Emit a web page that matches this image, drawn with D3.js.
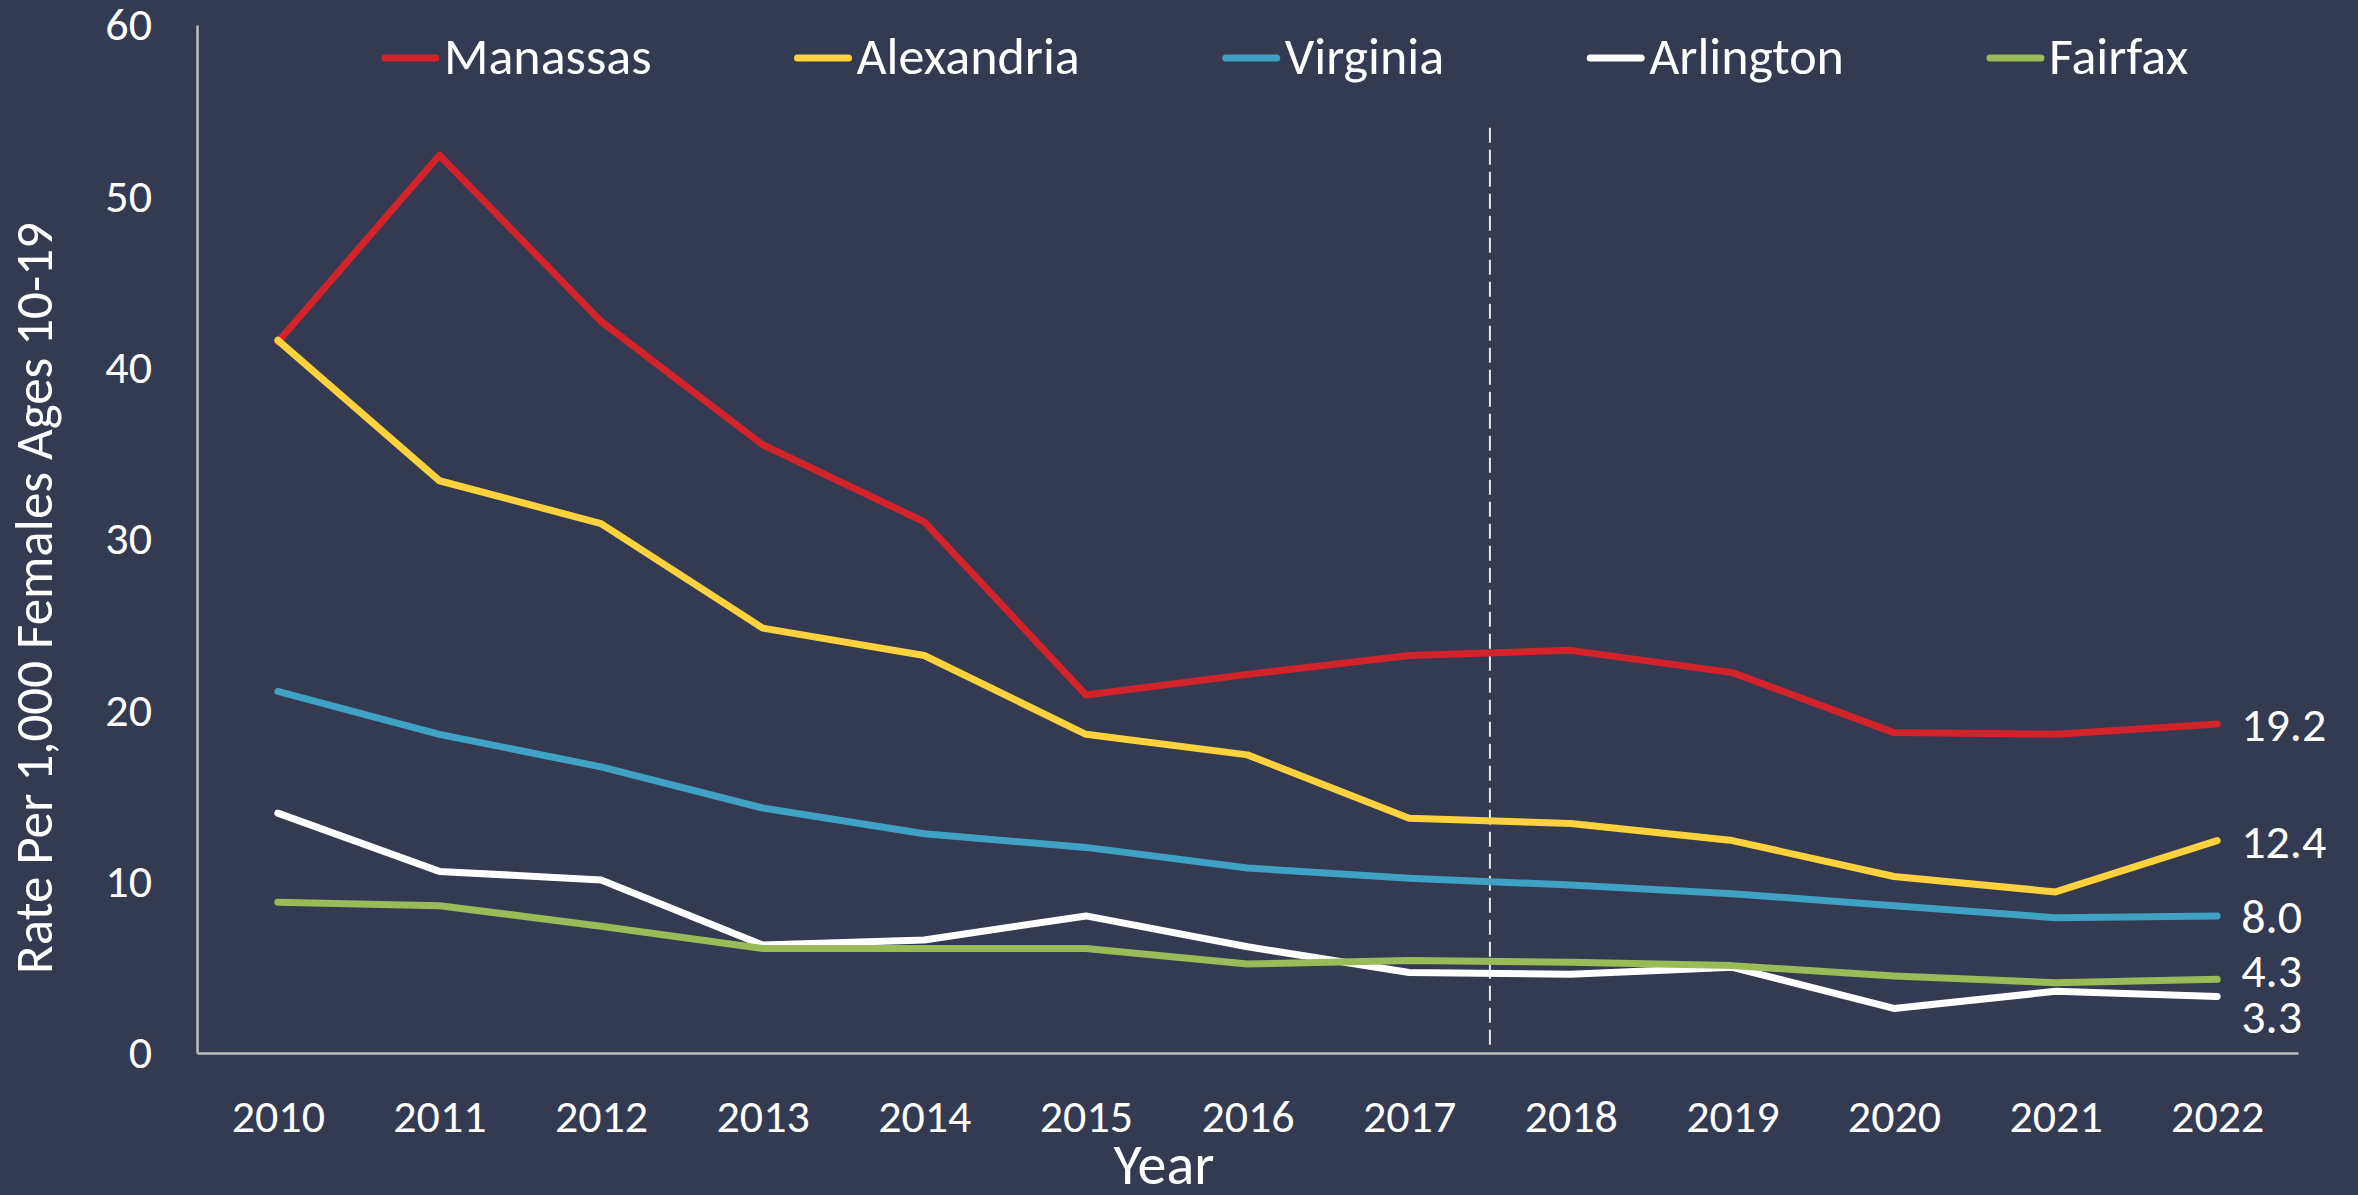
<!DOCTYPE html>
<html>
<head>
<meta charset="utf-8">
<script src="https://cdn.jsdelivr.net/npm/d3@7"></script>
<style>
  body { margin: 0; background: #333a51; }
  text { font-family: Carlito, Calibri, Lato, sans-serif; fill: #ffffff; }
</style>
</head>
<body>
<div id="chart"></div>
<script>
const years = [2010, 2011, 2012, 2013, 2014, 2015, 2016, 2017, 2018, 2019, 2020, 2021, 2022];
const yTicks = [0, 10, 20, 30, 40, 50, 60];

const manassas   = [41.5, 52.4, 42.7, 35.5, 31.0, 20.9, 22.1, 23.2, 23.5, 22.2, 18.7, 18.6, 19.2];
const alexandria = [41.6, 33.4, 30.9, 24.8, 23.2, 18.6, 17.4, 13.7, 13.4, 12.4, 10.3, 9.4, 12.4];
const virginia   = [21.1, 18.6, 16.7, 14.3, 12.8, 12.0, 10.8, 10.2, 9.8, 9.3, 8.6, 7.9, 8.0];
const arlington  = [14.0, 10.6, 10.1, 6.3, 6.6, 8.0, 6.2, 4.7, 4.6, 5.0, 2.6, 3.6, 3.3];
const fairfax    = [8.8, 8.6, 7.4, 6.1, 6.1, 6.1, 5.2, 5.4, 5.3, 5.1, 4.5, 4.1, 4.3];

const seriesNames = ["Manassas", "Alexandria", "Virginia", "Arlington", "Fairfax"];
const seriesValues = [manassas, alexandria, virginia, arlington, fairfax];
const colors = ["#d2232a", "#fed23c", "#3fa1c4", "#ffffff", "#9bbb59"];

const w = 2358;
const h = 1195;
const margin = { top: 25, bottom: 142, left: 197, right: 60 };

const svg = d3.select("#chart")
  .append("svg")
  .attr("width", w)
  .attr("height", h)
  .attr("viewBox", [0, 0, w, h]);

const x = d3.scalePoint()
  .domain(years)
  .range([margin.left, w - margin.right])
  .padding(0.5);

const y = d3.scaleLinear()
  .domain([0, 60])
  .range([h - margin.bottom, margin.top]);

// axes
const xAxis = svg.append("g")
  .attr("transform", `translate(0, ${y(0)})`)
  .call(d3.axisBottom(x).tickSize(0).tickPadding(46));
xAxis.select(".domain").attr("stroke", "#bfbfbf").attr("stroke-width", 2.5);
xAxis.selectAll("text").attr("font-size", 46).attr("fill", "#fff")
  .style("font-family", "Carlito, Calibri, Lato, sans-serif");

const yAxis = svg.append("g")
  .attr("transform", `translate(${margin.left}, 0)`)
  .call(d3.axisLeft(y).tickValues(yTicks).tickSize(0).tickPadding(45));
yAxis.select(".domain").attr("stroke", "#bfbfbf").attr("stroke-width", 2.5);
yAxis.selectAll("text").attr("font-size", 46).attr("fill", "#fff")
  .style("font-family", "Carlito, Calibri, Lato, sans-serif");

// axis titles
svg.append("text")
  .attr("x", 1164)
  .attr("y", 1184)
  .attr("text-anchor", "middle")
  .attr("font-size", 58)
  .text("Year");

svg.append("text")
  .attr("transform", `translate(52, 598) rotate(-90)`)
  .attr("text-anchor", "middle")
  .attr("font-size", 53)
  .text("Rate Per 1,000 Females Ages 10-19");

// dashed divider between 2017 and 2018
const step = x.step();
svg.append("line")
  .attr("x1", x(2017) + step / 2)
  .attr("x2", x(2017) + step / 2)
  .attr("y1", y(54))
  .attr("y2", y(0) - 6)
  .attr("stroke", "#e6e6e6")
  .attr("stroke-width", 2)
  .attr("stroke-dasharray", "15,7");

// lines
const line = d3.line()
  .x((d, i) => x(years[i]))
  .y(d => y(d));

svg.append("g")
  .selectAll("path")
  .data(seriesValues)
  .join("path")
    .attr("d", line)
    .attr("fill", "none")
    .attr("stroke", (d, i) => colors[i])
    .attr("stroke-width", 7)
    .attr("stroke-linecap", "round")
    .attr("stroke-linejoin", "round");

// end labels (small nudges for the two lowest ones)
const nudge = [0, 0, 0, 19, -10];
svg.append("g")
  .selectAll("text")
  .data(seriesValues)
  .join("text")
    .attr("x", x(2022) + 24)
    .attr("y", (d, i) => y(d[d.length - 1]) + nudge[i])
    .attr("dy", "0.36em")
    .attr("font-size", 48)
    .text(d => d[d.length - 1].toFixed(1));

// legend
const legend = svg.append("g");
let lx = 382;
seriesNames.forEach((name, i) => {
  legend.append("line")
    .attr("x1", lx + 3).attr("x2", lx + 54)
    .attr("y1", 58).attr("y2", 58)
    .attr("stroke", colors[i])
    .attr("stroke-width", 7)
    .attr("stroke-linecap", "round");
  const t = legend.append("text")
    .attr("x", lx + 62)
    .attr("y", 74)
    .attr("font-size", 52)
    .text(name);
  lx += 62 + t.node().getComputedTextLength() + 143;
});
</script>
</body>
</html>
